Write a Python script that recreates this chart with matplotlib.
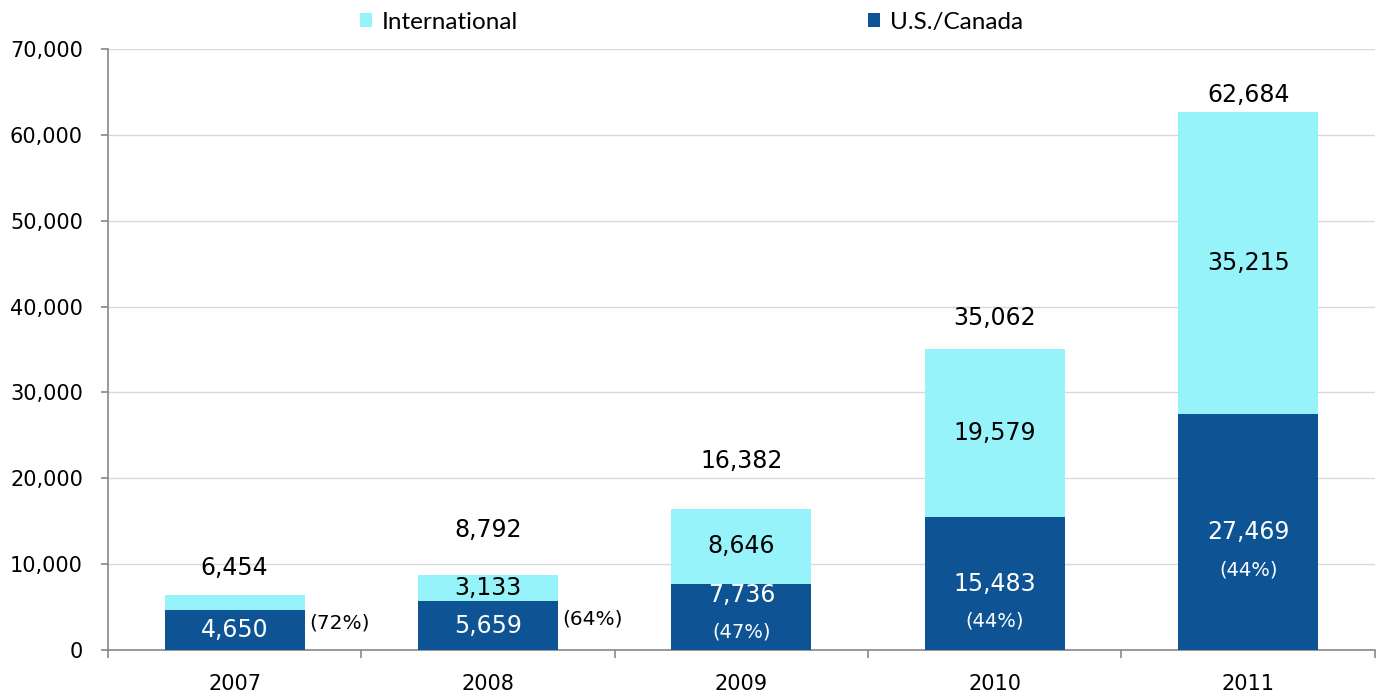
import matplotlib.pyplot as plt
from matplotlib.ticker import FuncFormatter, FixedLocator

years = ["2007", "2008", "2009", "2010", "2011"]
us_canada = [4650, 5659, 7736, 15483, 27469]
international = [1804, 3133, 8646, 19579, 35215]
totals = [6454, 8792, 16382, 35062, 62684]
us_share = ["(72%)", "(64%)", "(47%)", "(44%)", "(44%)"]

dark = "#0E5494"
light = "#96F3F9"
x = list(range(len(years)))
# label lift above each bar (points), placed by hand in the original
total_lift = [19, 32, 35, 22, 12]

fig = plt.figure(figsize=(13.79, 6.96), dpi=100)
ax = fig.add_axes([0.0783, 0.0661, 0.9187, 0.8635])

ax.bar(x, us_canada, width=0.553, color=dark, label="U.S./Canada", zorder=3)
ax.bar(x, international, width=0.553, bottom=us_canada, color=light,
       label="International", zorder=3)

ax.set_xlim(-0.5, 4.5)
ax.set_ylim(0, 70000)
ax.yaxis.set_major_locator(FixedLocator(range(0, 70001, 10000)))
ax.yaxis.set_major_formatter(FuncFormatter(lambda v, p: f"{int(v):,}"))
ax.grid(axis="y", color="#D9D9D9", linewidth=1, zorder=0)

ax.set_xticks(x)
ax.set_xticklabels(years)
ax.set_xticks([i + 0.5 for i in range(-1, len(years))], minor=True)
ax.tick_params(axis="x", which="major", length=0, pad=17, labelsize=15)
ax.tick_params(axis="x", which="minor", length=6, color="#888888", width=1.2)
ax.tick_params(axis="y", length=5, color="#888888", width=1.2, labelsize=15, pad=13)
for side in ["top", "right"]:
    ax.spines[side].set_visible(False)
for side in ["left", "bottom"]:
    ax.spines[side].set_color("#888888")
    ax.spines[side].set_linewidth(1.2)

# totals above bars
for i, t in enumerate(totals):
    ax.annotate(f"{t:,}", (i, t), xytext=(0, total_lift[i]), textcoords="offset points",
                ha="center", va="center", fontsize=17)

# international segment labels (skip the thin 2007 segment)
for i in range(1, len(years)):
    mid = us_canada[i] + international[i] / 2
    ax.text(i, mid, f"{international[i]:,}", ha="center", va="center",
            fontsize=17, zorder=4)

# U.S./Canada labels and share
for i in range(len(years)):
    mid = us_canada[i] / 2
    if i < 2:
        ax.text(i, mid, f"{us_canada[i]:,}", ha="center", va="center",
                fontsize=17, color="white", zorder=4)
        ax.annotate(us_share[i], (i + 0.2765, mid), xytext=(3, 5),
                    textcoords="offset points", ha="left", va="center",
                    fontsize=14.5)
    else:
        shift = 16 if i == 2 else 0
        ax.annotate(f"{us_canada[i]:,}", (i, mid), xytext=(0, shift),
                    textcoords="offset points", ha="center", va="center",
                    fontsize=17, color="white", zorder=4)
        ax.annotate(us_share[i], (i, mid), xytext=(0, shift - 27),
                    textcoords="offset points", ha="center", va="center",
                    fontsize=14, color="white", zorder=4)

handles, labels = ax.get_legend_handles_labels()
fig.legend(handles[::-1], labels[::-1], loc="center", ncol=2,
           bbox_to_anchor=(0.5015, 0.968), frameon=False,
           prop={"family": "Lato", "size": 17.5}, handlelength=0.5,
           handleheight=0.5, handletextpad=0.4, columnspacing=14.4)

fig.savefig("out.png", dpi=100)
